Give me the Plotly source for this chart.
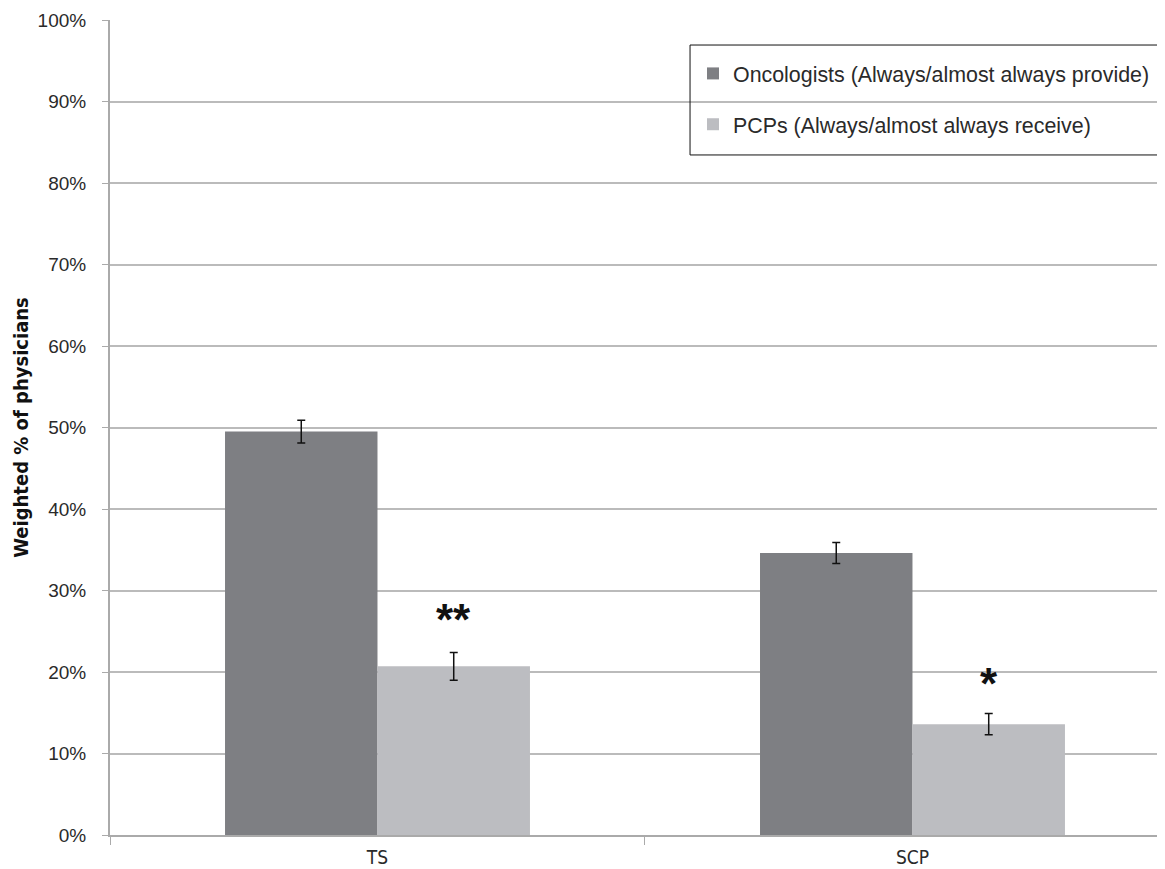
import plotly.graph_objects as go

categories = ["TS", "SCP"]
oncologists = [49.5, 34.6]
oncologists_err = [1.4, 1.3]
pcps = [20.7, 13.6]
pcps_err = [1.7, 1.3]
significance = ["**", "*"]
sig_y = [26.5, 18.6]
y_ticks = [0, 10, 20, 30, 40, 50, 60, 70, 80, 90, 100]

fig = go.Figure()
fig.add_trace(go.Bar(
    x=categories, y=oncologists, name="Oncologists (Always/almost always provide)",
    marker=dict(color="#7e7f83", line=dict(width=0)),
    error_y=dict(type="data", array=oncologists_err, color="#111111", thickness=1.5, width=4),
    legendgroup="a",
))
fig.add_trace(go.Bar(
    x=categories, y=pcps, name="PCPs (Always/almost always receive)",
    marker=dict(color="#bcbdc1", line=dict(width=0)),
    error_y=dict(type="data", array=pcps_err, color="#111111", thickness=1.5, width=4),
    legendgroup="b",
))

group_width = 0.57
for i, (s, yv) in enumerate(zip(significance, sig_y)):
    fig.add_annotation(x=i + group_width / 4, y=yv, text=f"<b>{s}</b>", showarrow=False,
                       font=dict(size=44, color="#111111", family="Liberation Sans"),
                       xref="x", yref="y")

# legend frame
fig.add_shape(type="rect", xref="paper", yref="paper",
              x0=0.5498, x1=0.9953, y0=0.8344, y1=0.9693,
              line=dict(color="#111111", width=1), fillcolor="rgba(0,0,0,0)", layer="above")

narrow = "Liberation Sans Narrow, DejaVu Sans Condensed, Liberation Sans, Arial"

fig.update_layout(
    width=1157, height=861,
    margin=dict(l=102, r=0, t=12, b=34),
    paper_bgcolor="white", plot_bgcolor="white",
    barmode="group", bargap=1 - group_width, bargroupgap=0,
    font=dict(family="Liberation Sans, Arial, sans-serif", size=19, color="#2a2a2a"),
    legend=dict(
        x=0.5526, y=0.9595, xanchor="left", yanchor="top",
        borderwidth=0, bgcolor="rgba(255,255,255,0)",
        font=dict(size=21.4, color="#2a2a2a"),
        tracegroupgap=20, traceorder="grouped",
        itemwidth=30,
    ),
    showlegend=True,
)
fig.update_xaxes(
    range=[-0.5, 1.472], showgrid=False, tickson="boundaries",
    ticks="outside", ticklen=8, tickcolor="#aaaaaa",
    showline=True, linecolor="#aaaaaa", linewidth=2,
    ticklabelstandoff=4,
    tickfont=dict(size=19, family=narrow),
)
fig.update_yaxes(
    range=[0, 100], tickvals=y_ticks, ticktext=[f"{v}%" for v in y_ticks],
    showgrid=True, gridcolor="#bbbbbb", gridwidth=1.5,
    showline=True, linecolor="#aaaaaa", linewidth=2,
    ticks="outside", ticklen=6, tickcolor="#aaaaaa",
    ticklabelstandoff=12,
    zeroline=False,
    tickfont=dict(size=19),
    title=dict(text="<b>Weighted % of physicians</b>", standoff=4,
               font=dict(size=20, family=narrow, color="#111111")),
)

fig.write_html("out.html")
